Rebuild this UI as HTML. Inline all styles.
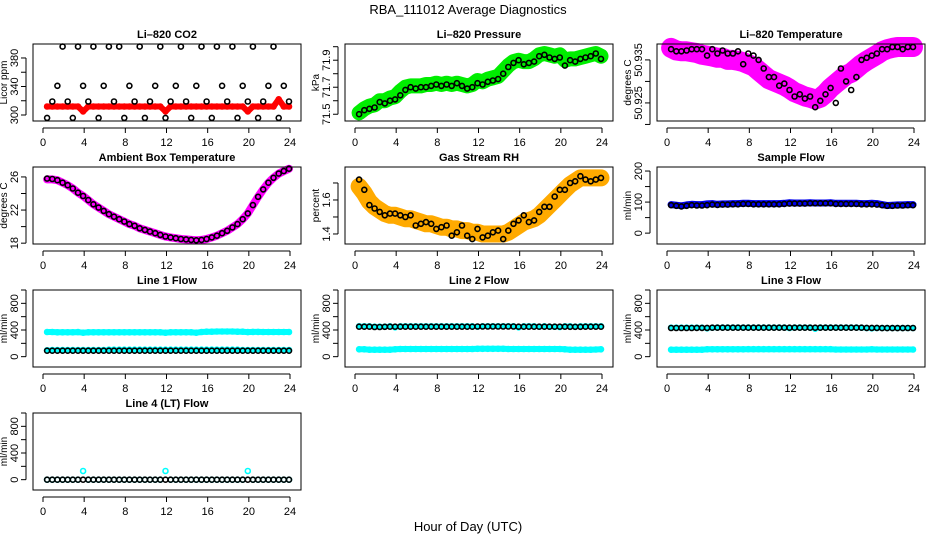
<!DOCTYPE html>
<html><head><meta charset="utf-8"><style>
body{margin:0;background:#fff}
svg{display:block;font-family:"Liberation Sans",Arial,sans-serif}
</style></head><body>
<svg id="chart" width="936" height="540" viewBox="0 0 936 540">
<rect width="936" height="540" fill="#fff"/>
<text x="468" y="14" text-anchor="middle" font-size="13">RBA_111012  Average Diagnostics</text>
<text x="468" y="531" text-anchor="middle" font-size="13">Hour of Day (UTC)</text>
</svg>
<script>
// time grid (hours, UTC) for each sample
var hours = [0.4,0.9,1.4,1.9,2.4,2.9,3.4,3.9,4.4,4.9,5.4,5.9,6.4,6.9,7.4,7.9,8.4,8.9,9.4,9.9,10.4,10.9,11.4,11.9,12.4,12.9,13.4,13.9,14.4,14.9,15.4,15.9,16.4,16.9,17.4,17.9,18.4,18.9,19.4,19.9,20.4,20.9,21.4,21.9,22.4,22.9,23.4,23.9];
var xTicks = [0,4,8,12,16,20,24];

var co2Black = [296,319,341,396,319,296,396,341,319,396,296,341,396,319,396,296,341,319,396,296,319,341,396,296,319,341,396,319,296,341,396,319,296,396,341,319,396,296,341,319,396,296,319,341,396,296,341,319];
var co2Red = [312,312,312,312,312,312,312,305,312,312,312,312,312,312,312,312,312,312,312,312,312,312,312,305,312,312,312,312,312,312,312,312,312,312,312,312,312,312,312,305,312,312,312,312,312,322,312,312];

var presBlack = [71.50,71.53,71.54,71.55,71.59,71.58,71.60,71.61,71.64,71.68,71.70,71.69,71.70,71.70,71.71,71.72,71.71,71.72,71.71,71.73,71.71,71.69,71.70,71.73,71.72,71.74,71.75,71.76,71.80,71.85,71.88,71.90,71.87,71.88,71.89,71.93,71.94,71.92,71.91,71.92,71.86,71.90,71.89,71.91,71.92,71.93,71.95,71.91];
var presGreen = [71.51,71.54,71.56,71.57,71.60,71.60,71.62,71.63,71.67,71.70,71.71,71.71,71.71,71.72,71.72,71.73,71.72,71.73,71.72,71.73,71.72,71.71,71.72,71.75,71.74,71.76,71.77,71.78,71.82,71.86,71.89,71.90,71.89,71.89,71.91,71.94,71.95,71.94,71.93,71.94,71.90,71.91,71.91,71.92,71.93,71.94,71.95,71.93];

var tempBlack = [50.9375,50.937,50.937,50.9372,50.9375,50.9375,50.9375,50.936,50.9375,50.9365,50.9372,50.9365,50.9365,50.937,50.934,50.9365,50.936,50.935,50.933,50.931,50.931,50.929,50.9295,50.928,50.9265,50.927,50.926,50.9265,50.924,50.9255,50.927,50.9285,50.925,50.933,50.930,50.928,50.931,50.935,50.9355,50.936,50.9365,50.9375,50.9375,50.938,50.938,50.9375,50.938,50.938];
var tempMagenta = [50.9378,50.9372,50.9370,50.9370,50.9368,50.9366,50.9362,50.9360,50.9358,50.9355,50.9355,50.9350,50.9350,50.9348,50.9345,50.9340,50.9335,50.9325,50.9315,50.9305,50.9300,50.9295,50.9290,50.9283,50.9275,50.9270,50.9265,50.9262,50.9258,50.9262,50.9272,50.9285,50.9295,50.9305,50.9315,50.9320,50.9330,50.9340,50.9348,50.9355,50.9362,50.9370,50.9375,50.9378,50.9380,50.9380,50.9380,50.9380];

var ambBlack = [25.8,25.75,25.6,25.3,25.0,24.6,24.1,23.7,23.2,22.7,22.3,21.9,21.5,21.2,20.9,20.6,20.3,20.1,19.8,19.6,19.4,19.2,19.0,18.8,18.7,18.6,18.5,18.45,18.4,18.35,18.4,18.5,18.7,18.9,19.2,19.5,19.9,20.3,20.9,21.6,22.6,23.6,24.5,25.3,25.9,26.4,26.7,27.0];
var ambMagenta = [25.7,25.7,25.6,25.3,25.0,24.6,24.1,23.7,23.2,22.7,22.3,21.9,21.5,21.2,20.9,20.6,20.3,20.1,19.8,19.6,19.4,19.2,19.0,18.8,18.7,18.6,18.5,18.45,18.4,18.35,18.4,18.5,18.7,18.9,19.2,19.5,19.9,20.3,20.9,21.6,22.6,23.6,24.5,25.3,25.9,26.4,26.7,27.0];

var rhBlack = [1.72,1.66,1.57,1.55,1.53,1.51,1.52,1.52,1.51,1.50,1.51,1.45,1.46,1.47,1.46,1.43,1.44,1.45,1.39,1.41,1.45,1.39,1.37,1.43,1.38,1.39,1.41,1.42,1.37,1.42,1.46,1.48,1.51,1.47,1.48,1.53,1.56,1.56,1.62,1.66,1.66,1.70,1.71,1.74,1.72,1.71,1.72,1.73];
var rhOrange = [1.68,1.64,1.59,1.56,1.54,1.52,1.51,1.51,1.50,1.49,1.49,1.48,1.47,1.46,1.46,1.45,1.44,1.44,1.43,1.43,1.42,1.42,1.41,1.41,1.40,1.40,1.40,1.40,1.40,1.41,1.43,1.45,1.47,1.48,1.49,1.51,1.54,1.57,1.60,1.63,1.66,1.69,1.71,1.73,1.73,1.73,1.73,1.73];

var sampBlack = [90,88,86,88,90,89,89,90,92,91,92,92,93,93,94,94,93,93,93,93,93,93,94,95,95,95,95,96,96,96,96,96,94,94,94,94,94,93,93,93,92,90,88,88,89,89,90,90];
var sampBlue = [92,90,88,91,93,92,92,94,95,93,94,94,95,95,96,96,95,95,95,95,95,95,96,98,97,97,97,98,97,97,97,98,96,96,96,96,96,95,95,96,95,92,89,90,91,91,92,92];

var l1Black = [90,90,90,90,90,90,90,90,90,90,90,90,90,90,90,90,90,90,90,90,90,90,90,90,90,90,90,90,90,90,90,90,90,90,90,90,90,90,90,90,90,90,90,90,90,90,90,90];
var l1CyanHi = [370,370,365,365,365,365,368,360,365,365,365,365,365,365,365,365,365,365,365,365,365,365,365,360,365,365,365,365,365,360,370,375,375,378,378,378,378,375,375,368,372,372,370,370,370,370,370,370];
var l1CyanLo = [95,100,100,100,100,100,100,100,100,100,100,100,105,105,105,105,105,105,105,105,105,105,105,105,105,105,105,105,105,105,105,105,105,105,105,105,105,105,100,100,100,100,100,100,100,100,100,100];

var l2Black = [450,450,450,445,445,448,450,450,450,450,450,450,450,450,450,450,450,450,450,450,450,450,450,452,452,452,452,452,452,452,452,450,450,450,450,450,450,450,450,450,450,448,448,448,450,450,450,450];
var l2CyanHi = [455,455,455,450,450,450,455,440,455,455,455,455,455,455,455,455,455,455,455,455,455,455,455,450,455,455,455,455,455,455,455,440,455,455,455,450,455,450,450,445,455,455,450,455,455,455,455,455];
var l2CyanLo = [110,110,105,105,105,105,105,110,115,115,115,115,115,115,115,115,115,115,115,115,115,115,115,118,118,118,118,118,118,115,115,115,115,115,115,115,115,115,115,115,110,105,105,105,105,105,108,110];

var l3Black = [430,430,430,430,430,432,432,432,435,435,435,435,435,435,435,435,435,435,435,435,435,435,435,435,435,435,435,435,435,435,435,435,435,435,435,435,435,435,432,432,432,428,428,428,428,428,430,430];
var l3CyanHi = [435,435,435,435,435,435,435,425,435,438,438,438,438,438,438,438,438,438,438,438,438,438,438,430,438,438,438,438,420,438,438,438,438,438,438,438,438,435,430,425,430,430,430,430,430,430,430,430];
var l3CyanLo = [105,105,105,105,105,105,105,110,110,110,110,110,110,110,110,112,112,112,112,112,112,112,112,112,112,112,112,112,112,112,112,112,108,108,108,108,108,108,108,110,108,108,108,108,108,108,108,108];

var l4Black = [0,0,0,0,0,0,0,0,0,0,0,0,0,0,0,0,0,0,0,0,0,0,0,0,0,0,0,0,0,0,0,0,0,0,0,0,0,0,0,0,0,0,0,0,0,0,0,0];
var l4Cyan = [0,0,0,0,0,0,0,130,0,0,0,0,0,0,0,0,0,0,0,0,0,0,0,130,0,0,0,0,0,0,0,0,0,0,0,0,0,0,0,130,0,0,0,0,0,0,0,0];

var co2Ticks=[300,320,340,360,380], co2Labels=["300","","340","","380"];
var presTicks=[71.5,71.6,71.7,71.8,71.9,72.0], presLabels=["71.5","","71.7","","71.9",""];
var tempTicks=[50.92,50.925,50.93,50.935], tempLabels=["","50.925","","50.935"];
var ambTicks=[18,20,22,24,26], ambLabels=["18","","22","","26"];
var rhTicks=[1.4,1.5,1.6,1.7], rhLabels=["1.4","","1.6",""];
var sampTicks=[0,50,100,150,200], sampLabels=["0","","100","","200"];
var flowTicks=[0,200,400,600,800,1000], flowLabels=["0","","400","","800",""];

var NS="http://www.w3.org/2000/svg";
var svg=document.getElementById('chart');
function mk(tag,attrs,parent){var e=document.createElementNS(NS,tag);for(var k in attrs)e.setAttribute(k,attrs[k]);(parent||svg).appendChild(e);return e;}

var colLeft=[33,345,657], rowTop=[44,167,290,413], boxW=268, boxH=77;

function panel(o){
  var L=colLeft[o.col],T=rowTop[o.row];
  var g=mk('g',{});
  
  
  var xs=function(t){return L+10+t*(247/24);};
  var ys=function(v){return T+boxH-(v-o.ylim[0])/(o.ylim[1]-o.ylim[0])*boxH;};
  // series
  o.series.forEach(function(s){
    var sg=mk('g',{},g);
    
    
    if(s.band){
      var pts=hours.map(function(t,i){return xs(t).toFixed(1)+','+ys(s.vals[i]).toFixed(1);}).join(' ');
      var pl=mk('polyline',{points:pts,fill:'none',stroke:s.color,'stroke-width':s.band,'stroke-linejoin':'round','stroke-linecap':'round'},sg);
      
      
    }
    hours.forEach(function(t,i){
      var c=mk('circle',{cx:xs(t).toFixed(1),cy:ys(s.vals[i]).toFixed(1),r:2.5,fill:'none',stroke:s.color,'stroke-width':1.6},sg);
      
      
    });
  });
  var box=mk('rect',{x:L,y:T,width:boxW,height:boxH,fill:'none',stroke:'#000','stroke-width':1},g);
  
  
  var tt=mk('text',{x:L+boxW/2,y:T-6,'text-anchor':'middle','font-size':11,'font-weight':'bold'},g);
  tt.textContent=o.title;
  
  
  // x axis
  var xa=mk('g',{},g);
  
  
  mk('line',{x1:xs(0),x2:xs(24),y1:T+boxH+7,y2:T+boxH+7,stroke:'#000'},xa);
  xTicks.forEach(function(t){
    mk('line',{x1:xs(t),x2:xs(t),y1:T+boxH+7,y2:T+boxH+12,stroke:'#000'},xa);
    if(o.xlabels){var tx=mk('text',{x:xs(t),y:T+boxH+25,'text-anchor':'middle','font-size':11},xa);tx.textContent=t;
      
      }
  });
  // y axis
  var ya=mk('g',{},g);
  
  
  var yt=o.yticks;
  mk('line',{x1:L-7,x2:L-7,y1:ys(yt[0]),y2:ys(yt[yt.length-1]),stroke:'#000'},ya);
  yt.forEach(function(v,i){
    mk('line',{x1:L-12,x2:L-7,y1:ys(v),y2:ys(v),stroke:'#000'},ya);
    if(o.ylabels[i]){var tx=mk('text',{x:L-15,y:ys(v),'text-anchor':'middle','font-size':11,transform:'rotate(-90 '+(L-15)+' '+ys(v)+')'},ya);tx.textContent=o.ylabels[i];
      
      }
  });
  var yl=mk('text',{x:L-26,y:T+boxH/2,'text-anchor':'middle','font-size':10,transform:'rotate(-90 '+(L-26)+' '+(T+boxH/2)+')'},g);
  yl.textContent=o.ylab;
  
  
}

panel({name:'co2',col:0,row:0,title:'Li\u2013820 CO2',ylab:'Licor ppm',ylim:[291.6,399.6],yticks:co2Ticks,ylabels:co2Labels,xlabels:true,
  series:[{key:'raw',vals:co2Red,color:'#ff0000',band:6},{key:'avg',vals:co2Black,color:'#000'}]});
panel({name:'pressure',col:1,row:0,title:'Li\u2013820 Pressure',ylab:'kPa',ylim:[71.45,72.02],yticks:presTicks,ylabels:presLabels,xlabels:true,
  series:[{key:'raw',vals:presGreen,color:'#00ee00',band:15},{key:'avg',vals:presBlack,color:'#000'}]});
panel({name:'li820-temp',col:2,row:0,title:'Li\u2013820 Temperature',ylab:'degrees C',ylim:[50.9208,50.9387],yticks:tempTicks,ylabels:tempLabels,xlabels:true,
  series:[{key:'raw',vals:tempMagenta,color:'#ff00ff',band:20},{key:'avg',vals:tempBlack,color:'#000'}]});
panel({name:'ambient-temp',col:0,row:1,title:'Ambient Box Temperature',ylab:'degrees C',ylim:[17.9,27.2],yticks:ambTicks,ylabels:ambLabels,xlabels:true,
  series:[{key:'raw',vals:ambMagenta,color:'#ff00ff',band:8},{key:'avg',vals:ambBlack,color:'#000'}]});
panel({name:'rh',col:1,row:1,title:'Gas Stream RH',ylab:'percent',ylim:[1.341,1.794],yticks:rhTicks,ylabels:rhLabels,xlabels:true,
  series:[{key:'raw',vals:rhOrange,color:'#ffaa00',band:17},{key:'avg',vals:rhBlack,color:'#000'}]});
panel({name:'sample-flow',col:2,row:1,title:'Sample Flow',ylab:'ml/min',ylim:[-35,213],yticks:sampTicks,ylabels:sampLabels,xlabels:true,
  series:[{key:'raw',vals:sampBlue,color:'#0000ee',band:7},{key:'avg',vals:sampBlack,color:'#000'}]});
panel({name:'line1-flow',col:0,row:2,title:'Line 1 Flow',ylab:'ml/min',ylim:[-155,1000],yticks:flowTicks,ylabels:flowLabels,xlabels:true,
  series:[{key:'raw-high',vals:l1CyanHi,color:'#00ffff',band:6},{key:'raw-low',vals:l1CyanLo,color:'#00ffff',band:5},{key:'avg',vals:l1Black,color:'#000'}]});
panel({name:'line2-flow',col:1,row:2,title:'Line 2 Flow',ylab:'ml/min',ylim:[-155,1000],yticks:flowTicks,ylabels:flowLabels,xlabels:true,
  series:[{key:'raw-high',vals:l2CyanHi,color:'#00ffff',band:5},{key:'raw-low',vals:l2CyanLo,color:'#00ffff',band:6},{key:'avg',vals:l2Black,color:'#000'}]});
panel({name:'line3-flow',col:2,row:2,title:'Line 3 Flow',ylab:'ml/min',ylim:[-155,1000],yticks:flowTicks,ylabels:flowLabels,xlabels:true,
  series:[{key:'raw-high',vals:l3CyanHi,color:'#00ffff',band:5},{key:'raw-low',vals:l3CyanLo,color:'#00ffff',band:6},{key:'avg',vals:l3Black,color:'#000'}]});
panel({name:'line4-flow',col:0,row:3,title:'Line 4 (LT) Flow',ylab:'ml/min',ylim:[-155,1000],yticks:flowTicks,ylabels:flowLabels,xlabels:true,
  series:[{key:'raw',vals:l4Cyan,color:'#00ffff'},{key:'avg',vals:l4Black,color:'#000'}]});
</script>
</body></html>
